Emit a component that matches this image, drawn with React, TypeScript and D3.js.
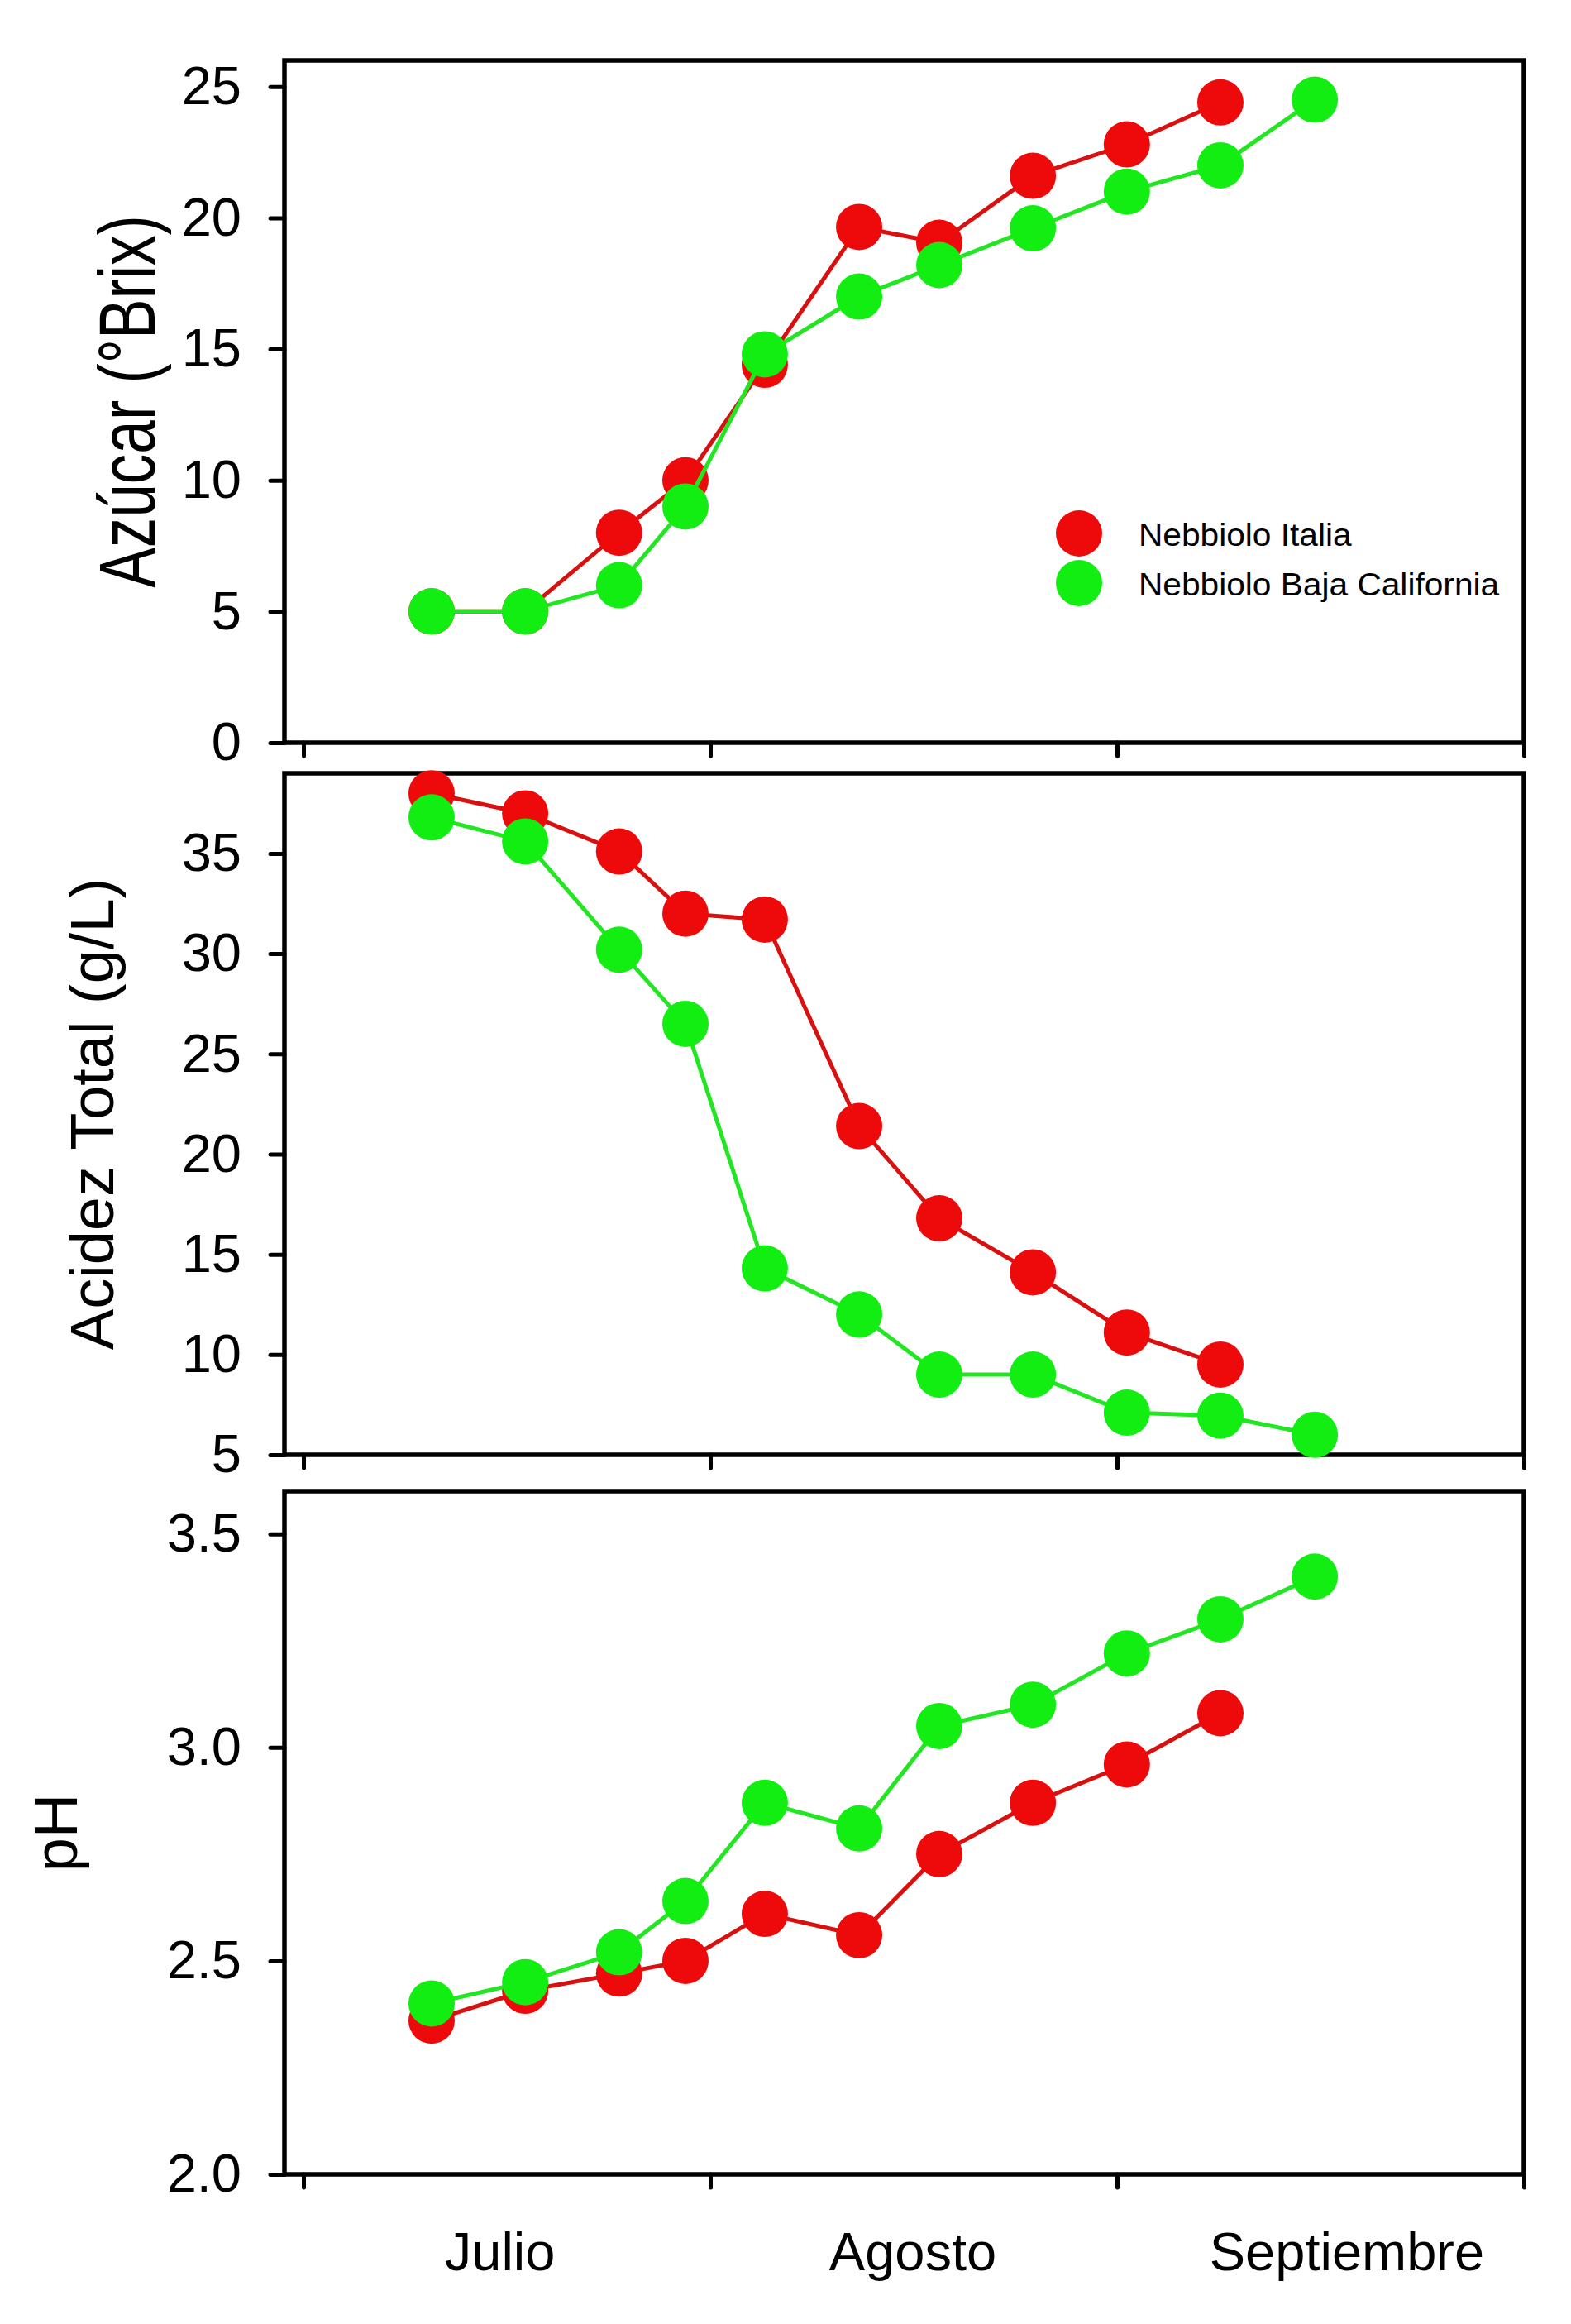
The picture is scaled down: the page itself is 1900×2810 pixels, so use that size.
import React, { useEffect, useRef } from 'react';
import * as d3 from 'd3';

// sampling dates, in months since 1 July (0 = Jul 1, 1 = Aug 1, 2 = Sep 1, 3 = Oct 1)
const samplingMonth = [0.315, 0.545, 0.776, 0.939, 1.134, 1.366, 1.563, 1.793, 2.024, 2.254, 2.486];
const monthTicks = [0, 1, 2, 3];
const monthNames = ['Julio', 'Agosto', 'Septiembre'];
const monthLabelPos = [0.483, 1.498, 2.565];

const seriesNames = ['Nebbiolo Italia', 'Nebbiolo Baja California'];

const sugarItalia = [5, 5, 8, 10, 14.4, 19.65, 19.05, 21.6, 22.8, 24.4];
const sugarBaja = [5, 5, 6, 9, 14.8, 17, 18.2, 19.6, 21, 22, 24.5];

const acidItalia = [38, 37, 35.1, 32, 31.7, 21.4, 16.8, 14.1, 11.1, 9.5];
const acidBaja = [36.8, 35.6, 30.2, 26.5, 14.3, 12, 9, 9, 7.1, 6.95, 6.0];

const phItalia = [2.36, 2.43, 2.47, 2.5, 2.61, 2.56, 2.75, 2.87, 2.96, 3.08];
const phBaja = [2.4, 2.45, 2.52, 2.64, 2.87, 2.81, 3.05, 3.1, 3.22, 3.3, 3.4];

const sugarTicks = [0, 5, 10, 15, 20, 25];
const acidTicks = [5, 10, 15, 20, 25, 30, 35];
const phTicks = [2.0, 2.5, 3.0, 3.5];

const W = 1900;
const H = 2810;
const left = 344;
const right = 1843;
const FONT = "Arial, 'Liberation Sans', sans-serif";
const RED = '#ee0a0a';
const RED_LINE = '#d81010';
const GREEN = '#12ee12';
const GREEN_LINE = '#22e622';

interface Panel {
	top: number;
	bottom: number;
	domain: [number, number];
	ticks: number[];
	fmt: (d: number) => string;
	italia: number[];
	baja: number[];
	title: string;
	titleSize: number;
	titleScale: number;
	titleX: number;
}

const panels: Panel[] = [
	{ top: 73, bottom: 898, domain: [0, 26], ticks: sugarTicks, fmt: d3.format('d'), italia: sugarItalia, baja: sugarBaja, title: 'Azúcar (°Brix)', titleSize: 96, titleScale: 0.76, titleX: 187 },
	{ top: 935, bottom: 1759, domain: [5, 39], ticks: acidTicks, fmt: d3.format('d'), italia: acidItalia, baja: acidBaja, title: 'Acidez Total (g/L)', titleSize: 74, titleScale: 1, titleX: 137 },
	{ top: 1803, bottom: 2629, domain: [2.0, 3.6], ticks: phTicks, fmt: d3.format('.1f'), italia: phItalia, baja: phBaja, title: 'pH', titleSize: 74, titleScale: 1, titleX: 93 },
];

const App: React.FC = () => {
	const ref = useRef<SVGSVGElement | null>(null);

	useEffect(() => {
		if (!ref.current) return;
		const svg = d3.select(ref.current);
		svg.selectAll('*').remove();
		svg.append('rect').attr('width', W).attr('height', H).attr('fill', '#fff');

		const x = d3.scaleLinear().domain([0, 3]).range([367, right]);

		panels.forEach((p, pi) => {
			const y = d3.scaleLinear().domain(p.domain).range([p.bottom, p.top]);
			const g = svg.append('g');

			// y axis ticks + labels
			const ya = g.append('g').attr('transform', `translate(${left},0)`)
				.call(d3.axisLeft(y).tickValues(p.ticks).tickFormat(p.fmt as any).tickSize(17).tickSizeOuter(0).tickPadding(35));
			ya.select('.domain').remove();
			ya.selectAll('line').attr('stroke', '#000').attr('stroke-width', 5).attr('stroke-linecap', 'round');
			ya.selectAll('text').attr('fill', '#000').attr('font-family', FONT).attr('font-size', 65);

			// x axis ticks
			const xa = g.append('g').attr('transform', `translate(0,${p.bottom})`)
				.call(d3.axisBottom(x).tickValues(monthTicks).tickFormat(() => '').tickSize(16).tickSizeOuter(0));
			xa.select('.domain').remove();
			xa.selectAll('line').attr('stroke', '#000').attr('stroke-width', 5).attr('stroke-linecap', 'round');

			// frame
			g.append('rect')
				.attr('x', left).attr('y', p.top)
				.attr('width', right - left).attr('height', p.bottom - p.top)
				.attr('fill', 'none').attr('stroke', '#000').attr('stroke-width', 5.5);

			// y title
			g.append('text')
				.attr('transform', `translate(${p.titleX},${(p.top + p.bottom) / 2}) rotate(-90) scale(${p.titleScale},1)`)
				.attr('text-anchor', 'middle')
				.attr('font-family', FONT)
				.attr('font-size', p.titleSize)
				.attr('fill', '#000')
				.text(p.title);

			const line = d3.line<number>().x((_, i) => x(samplingMonth[i])).y((d) => y(d));
			const series = [
				{ values: p.italia, fill: RED, stroke: RED_LINE },
				{ values: p.baja, fill: GREEN, stroke: GREEN_LINE },
			];
			series.forEach((s) => {
				g.append('path').datum(s.values).attr('d', line).attr('fill', 'none').attr('stroke', s.stroke).attr('stroke-width', 5);
				g.selectAll(null).data(s.values).enter().append('circle')
					.attr('cx', (_, i) => x(samplingMonth[i]))
					.attr('cy', (d) => y(d))
					.attr('r', 28)
					.attr('fill', s.fill);
			});

			if (pi === 0) {
				const lg = g.append('g');
				[RED, GREEN].forEach((c, i) => {
					lg.append('circle').attr('cx', 1305).attr('cy', 645 + i * 60).attr('r', 28).attr('fill', c);
					lg.append('text')
						.attr('transform', `translate(1377,${660 + i * 60}) scale(1.07,1)`)
						.attr('font-family', FONT).attr('font-size', 38).attr('fill', '#000')
						.text(seriesNames[i]);
				});
			}

			if (pi === panels.length - 1) {
				g.selectAll(null).data(monthNames).enter().append('text')
					.attr('x', (_, i) => x(monthLabelPos[i]))
					.attr('y', 2745)
					.attr('text-anchor', 'middle')
					.attr('font-family', FONT)
					.attr('font-size', 65)
					.attr('fill', '#000')
					.text((d) => d);
			}
		});
	}, []);

	return (
		<svg
			ref={ref}
			width={W}
			height={H}
			viewBox={`0 0 ${W} ${H}`}
			style={{ position: 'absolute', left: 0, top: 0, display: 'block' }}
		/>
	);
};

export default App;
